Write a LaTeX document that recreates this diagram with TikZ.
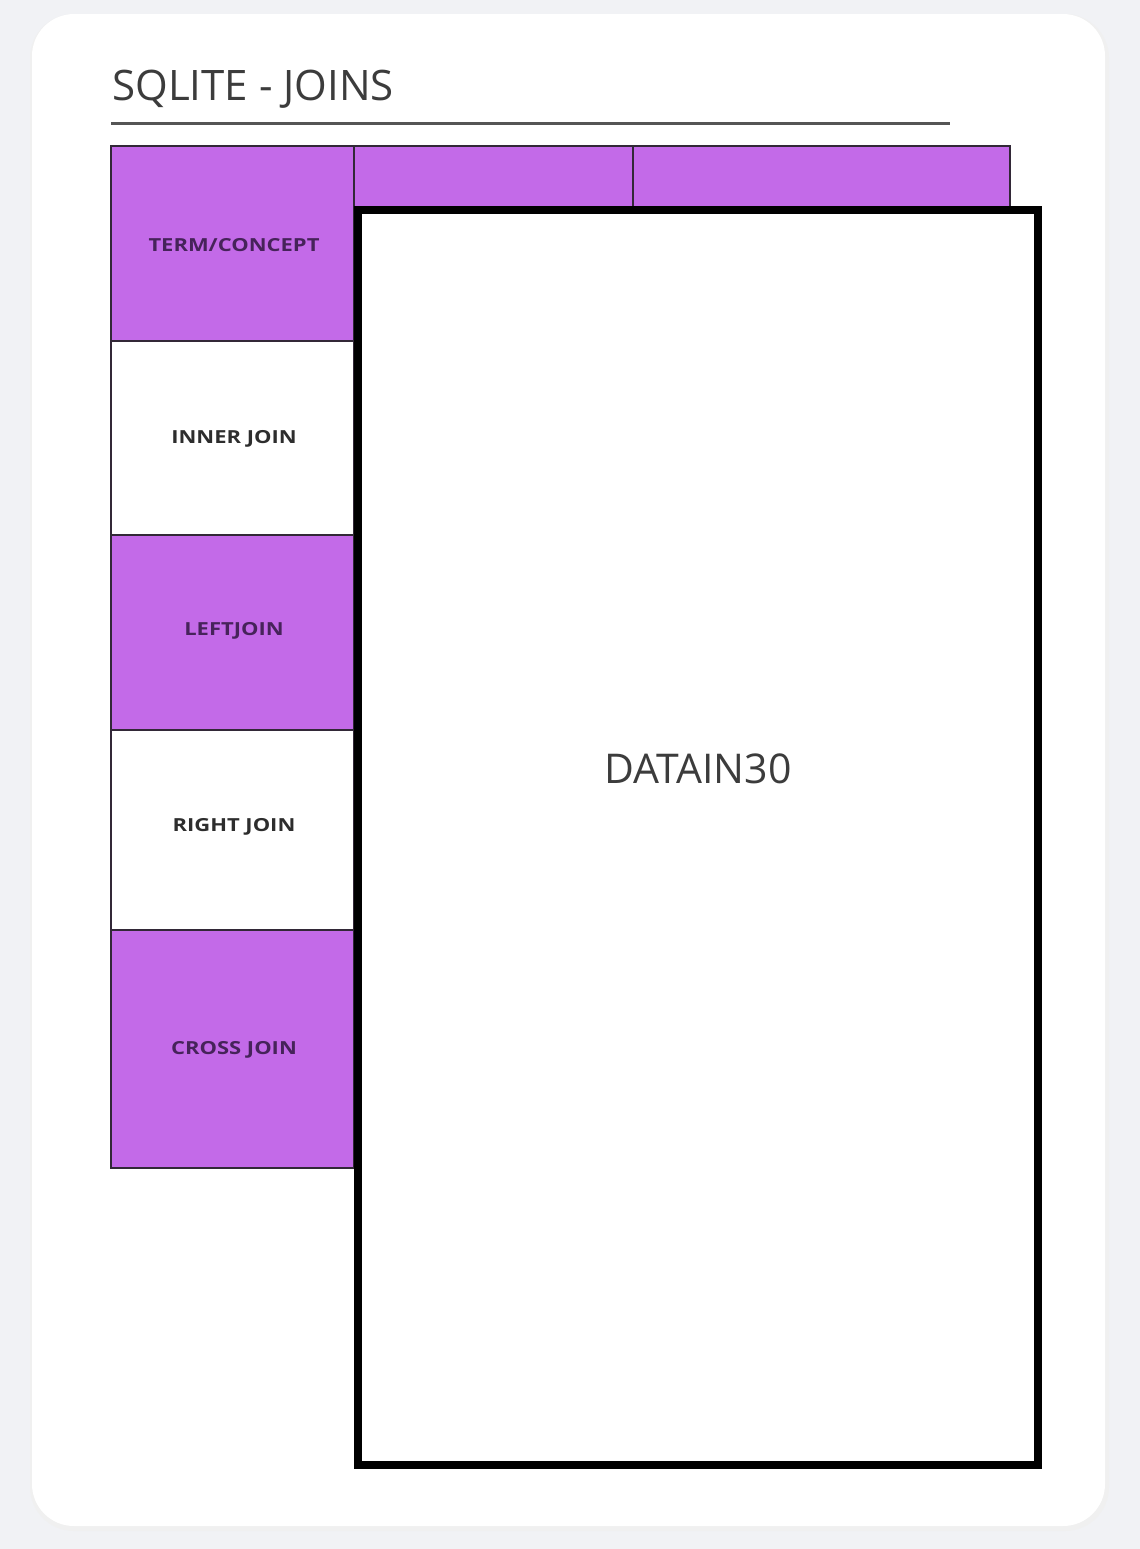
\documentclass[tikz,border=0pt]{standalone}
\usepackage{fontspec}
\setmainfont{Open Sans}
\newfontfamily\lblfont{Open Sans}[FakeStretch=1.22]
\definecolor{pagebg}{RGB}{241,242,245}
\definecolor{cardbg}{RGB}{255,255,255}
\definecolor{purp}{RGB}{195,106,232}
\definecolor{titlecol}{RGB}{60,60,60}
\definecolor{rulecol}{RGB}{85,85,85}
\definecolor{celline}{RGB}{50,40,55}
\definecolor{lblpurp}{RGB}{70,35,90}
\definecolor{lblgray}{RGB}{45,45,45}
\begin{document}
\begin{tikzpicture}[x=0.5pt,y=-0.5pt,
  cellbox/.style={draw=celline, line width=0.8pt, inner sep=0pt, outer sep=0pt, anchor=north west},
  purpcell/.style={cellbox, fill=purp, text=lblpurp},
  whitecell/.style={cellbox, fill=white, text=lblgray},
  lbl/.style={font=\lblfont\fontsize{9}{10}\selectfont\bfseries},
  bigbox/.style={draw=black, line width=4pt, fill=white, inner sep=0pt, outer sep=0pt, anchor=north west}]
\useasboundingbox (0,0) rectangle (1140,1549);
\fill[pagebg] (0,0) rectangle (1140,1549);
% card shadow and card
\fill[black!6, rounded corners=22pt] (30,14) rectangle (1109,1531);
\fill[cardbg, rounded corners=21pt] (32,14) rectangle (1105,1526);
% title
\node[anchor=base west, inner sep=0pt, text=titlecol, font=\fontsize{21}{24}\selectfont] (title) at (112,100) {SQLITE - JOINS};
\coordinate (ruleA) at (111,123);
\coordinate (ruleB) at (950,123);
\draw[rulecol, line width=1.5pt] (ruleA) -- (ruleB);
% header cells
\node[purpcell, minimum width=121.5pt, minimum height=97.5pt] (term) at (111,146) {};
\node[lbl, text=lblpurp] (termlbl) at (234,245) {TERM/CONCEPT};
\node[purpcell, minimum width=139.5pt, minimum height=30.5pt] (h2) at (354,146) {};
\node[purpcell, minimum width=188.5pt, minimum height=30.5pt] (h3) at (633,146) {};
% row cells
\node[whitecell, minimum width=121.5pt, minimum height=97pt] (inner) at (111,341) {};
\node[lbl, text=lblgray] (innerlbl) at (234,439) {INNER JOIN};
\node[purpcell, minimum width=121.5pt, minimum height=97.5pt] (left) at (111,535) {};
\node[lbl, text=lblpurp] (leftlbl) at (234,631) {LEFTJOIN};
\node[whitecell, minimum width=121.5pt, minimum height=100pt] (right) at (111,730) {};
\node[lbl, text=lblgray] (rightlbl) at (234,827) {RIGHT JOIN};
\node[purpcell, minimum width=121.5pt, minimum height=119pt] (cross) at (111,930) {};
\node[lbl, text=lblpurp] (crosslbl) at (234,1050) {CROSS JOIN};
% big content box
\node[bigbox, minimum width=340pt, minimum height=627.5pt] (big) at (358,210) {};
\node[text=titlecol, font=\fontsize{20.5}{24}\selectfont] (bigtxt) at (698,769) {DATAIN30};
\end{tikzpicture}
\end{document}
